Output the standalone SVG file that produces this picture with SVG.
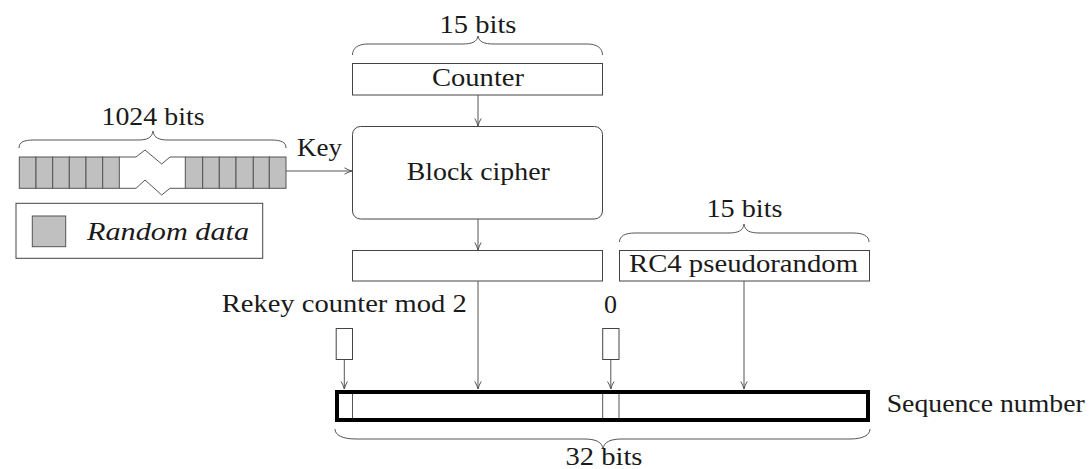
<svg xmlns="http://www.w3.org/2000/svg" width="1092" height="469" viewBox="0 0 1092 469" font-family="Liberation Serif, DejaVu Serif, serif" font-size="26">
<style>
text{fill:#1a1a1a}
.box{fill:#fff;stroke:#444;stroke-width:1}
.cell{fill:#c0c0c0;stroke:#555;stroke-width:1}
.ln{fill:none;stroke:#555;stroke-width:1}
.brace{fill:none;stroke:#555;stroke-width:1}
.arr{fill:none;stroke:#555;stroke-width:1;marker-end:url(#ah)}
</style>
<defs>
<marker id="ah" markerUnits="userSpaceOnUse" markerWidth="10" markerHeight="8" refX="8" refY="4" orient="auto">
<path d="M0.5,0.8 Q4,3 8,4 Q4,5 0.5,7.2" fill="none" stroke="#555" stroke-width="1"/>
</marker>
</defs>

<g id="random-data">
<rect class="cell" x="19.3" y="157" width="16.7" height="31.3"/>
<rect class="cell" x="36" y="157" width="16.7" height="31.3"/>
<rect class="cell" x="52.7" y="157" width="16.6" height="31.3"/>
<rect class="cell" x="69.3" y="157" width="16.7" height="31.3"/>
<rect class="cell" x="86" y="157" width="16.7" height="31.3"/>
<rect class="cell" x="102.7" y="157" width="16.6" height="31.3"/>
<rect class="cell" x="185.3" y="157" width="17.4" height="31.3"/>
<rect class="cell" x="202.7" y="157" width="16.6" height="31.3"/>
<rect class="cell" x="219.3" y="157" width="16.7" height="31.3"/>
<rect class="cell" x="236" y="157" width="17.3" height="31.3"/>
<rect class="cell" x="253.3" y="157" width="16" height="31.3"/>
<rect class="cell" x="269.3" y="157" width="16.7" height="31.3"/>
<path class="ln" d="M119.3,157 L136,157 L145,150 L161.7,164 L170,157 L185.3,157"/>
<path class="ln" d="M119.3,188.3 L136,188.3 L145,180 L161.7,195 L170,188.3 L185.3,188.3"/>
<path class="brace" d="M19,148 C19,142 24,140 34,140 L138,140 C147,140 152,138 153,131 C154,138 159,140 168,140 L271,140 C281,140 286,142 286,148"/>
<text x="153" y="125" text-anchor="middle" textLength="103" lengthAdjust="spacingAndGlyphs">1024 bits</text>
</g>

<g id="legend">
<rect class="box" x="16" y="203.3" width="246.7" height="55"/>
<rect class="cell" x="32.3" y="216" width="33.4" height="30.7"/>
<text x="87" y="240" font-style="italic" textLength="162" lengthAdjust="spacingAndGlyphs">Random data</text>
</g>

<g id="key-label">
<text x="297" y="156" textLength="45" lengthAdjust="spacingAndGlyphs">Key</text>
</g>

<g id="counter">
<path class="brace" d="M352.5,55 C352.5,48 358,44 368,44 L462,44 C472,44 477,42 478,36 C479,42 484,44 494,44 L587,44 C597,44 602.5,48 602.5,55"/>
<text x="478" y="33" text-anchor="middle" textLength="77" lengthAdjust="spacingAndGlyphs">15 bits</text>
<rect class="box" x="352.5" y="63.5" width="250" height="31.5"/>
<text x="478" y="86" text-anchor="middle" textLength="92" lengthAdjust="spacingAndGlyphs">Counter</text>
</g>

<g id="block-cipher">
<rect class="box" x="352.5" y="126.5" width="250" height="92.5" rx="8" ry="8"/>
<text x="478.3" y="180" text-anchor="middle" textLength="143" lengthAdjust="spacingAndGlyphs">Block cipher</text>
</g>

<g id="output">
<rect class="box" x="352.5" y="250.5" width="250" height="30.5"/>
</g>

<g id="rc4">
<path class="brace" d="M619.5,242 C619.5,236 625,233 635,233 L728,233 C738,233 743,231 744,224 C745,231 750,233 760,233 L853,233 C863,233 869,236 869,242"/>
<text x="744.5" y="217" text-anchor="middle" textLength="76" lengthAdjust="spacingAndGlyphs">15 bits</text>
<rect class="box" x="619.5" y="250.5" width="250" height="30.5"/>
<text x="629" y="272" textLength="229" lengthAdjust="spacingAndGlyphs">RC4 pseudorandom</text>
</g>

<g id="rekey">
<text x="221.7" y="312" textLength="245" lengthAdjust="spacingAndGlyphs">Rekey counter mod 2</text>
<rect class="box" x="336.2" y="328.5" width="16.3" height="31"/>
</g>

<g id="zero">
<text x="610.5" y="313" text-anchor="middle">0</text>
<rect class="box" x="602.7" y="328.5" width="16.3" height="31"/>
</g>

<g id="sequence">
<rect x="337" y="392" width="531" height="28" fill="#fff" stroke="#000" stroke-width="4"/>
<line class="ln" x1="352.5" y1="394" x2="352.5" y2="418"/>
<line class="ln" x1="602.7" y1="394" x2="602.7" y2="418"/>
<line class="ln" x1="619" y1="394" x2="619" y2="418"/>
<text x="886.7" y="412" textLength="198" lengthAdjust="spacingAndGlyphs">Sequence number</text>
<path class="brace" d="M335,429 C335,435 342,439 356,439 L584,439 C596,439 602,442 603,449 C604,442 610,439 622,439 L850,439 C863,439 870,435 870,429"/>
<text x="604" y="465" text-anchor="middle" textLength="77" lengthAdjust="spacingAndGlyphs">32 bits</text>
</g>

<g id="connectors">
<line class="arr" x1="478" y1="95" x2="478" y2="126"/>
<line class="arr" x1="286" y1="171" x2="352" y2="171"/>
<line class="arr" x1="478" y1="219" x2="478" y2="250"/>
<line class="arr" x1="478" y1="281" x2="478" y2="389"/>
<line class="arr" x1="744" y1="281" x2="744" y2="389"/>
<line class="arr" x1="344.3" y1="359.5" x2="344.3" y2="389"/>
<line class="arr" x1="610.8" y1="359.5" x2="610.8" y2="389"/>
</g>
</svg>
